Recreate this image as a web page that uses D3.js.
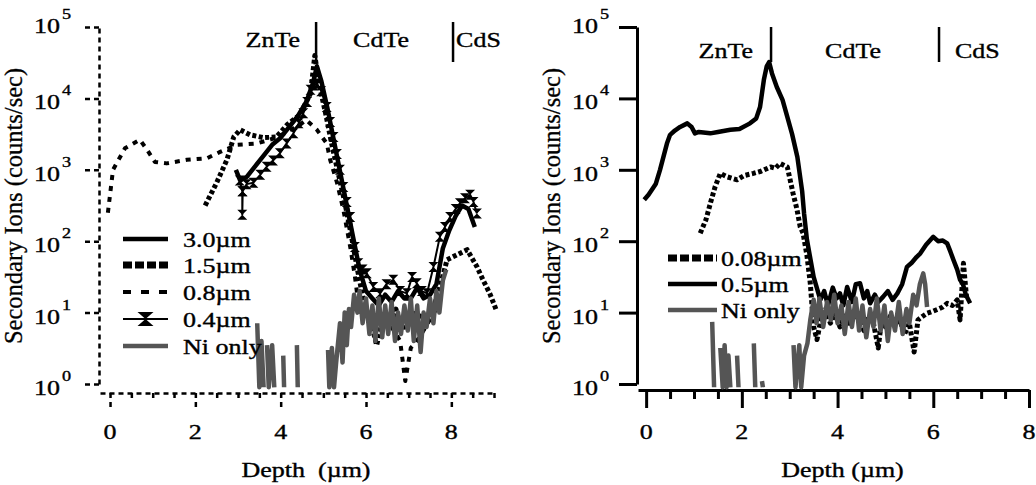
<!DOCTYPE html>
<html>
<head>
<meta charset="utf-8">
<script src="https://cdn.jsdelivr.net/npm/d3@7"></script>
<style>
  html, body { margin: 0; padding: 0; background: #fff; }
  svg { display: block; }
  text { white-space: pre; }
</style>
</head>
<body>
<svg id="chart" width="1036" height="485"></svg>
<script>
// Tiefenprofile, links: verschiedene Ni-Schichtdicken [Tiefe um, Counts/s]
const left30 = [[2.95, 1000], [3.05, 710], [3.2, 790], [3.4, 1120], [3.6, 1580], [3.8, 2240], [4.0, 2820], [4.2, 3980],
  [4.4, 5620], [4.6, 8910], [4.75, 15850], [4.85, 28180], [4.95, 17780], [5.1, 7080], [5.25, 2510], [5.4, 890],
  [5.55, 316], [5.7, 112], [5.85, 40], [6.0, 20], [6.15, 15.8], [6.3, 12.6], [6.45, 17.8], [6.6, 14.1], [6.75, 20],
  [6.9, 15.8], [7.05, 15.8], [7.2, 22.4], [7.35, 15.8], [7.5, 17.8], [7.65, 25], [7.8, 79], [7.95, 141], [8.1, 224],
  [8.25, 316], [8.4, 282], [8.55, 158]];
const left15 = [[2.23, 316], [2.5, 661], [2.74, 1380], [2.9, 2880], [3.05, 3630], [3.28, 3090], [3.6, 2820], [3.9, 2880],
  [4.15, 4270], [4.45, 5890], [4.7, 11750], [4.8, 39810], [4.9, 15850], [5.05, 6310], [5.2, 2240], [5.35, 890],
  [5.5, 355], [5.65, 126], [5.8, 40], [5.95, 14], [6.1, 7.9], [6.25, 3.5], [6.4, 8.9], [6.55, 6.3], [6.7, 11.2],
  [6.85, 5.6], [7.0, 8.9], [7.2, 10], [7.4, 7.1], [7.6, 12.6], [7.75, 25], [7.9, 55], [8.1, 63], [8.37, 76],
  [8.6, 44], [8.75, 28], [8.9, 18.6], [9.05, 11]];
const left08 = [[-0.05, 250], [0.07, 1000], [0.35, 2000], [0.7, 2630], [0.87, 1900], [1.05, 1290], [1.33, 1230],
  [1.8, 1380], [2.27, 1450], [2.58, 1780], [2.97, 2240], [3.44, 2340], [3.9, 2820], [4.45, 4270], [4.6, 5000],
  [4.85, 3630], [5.08, 2340], [5.16, 1380], [5.32, 660], [5.47, 275], [5.63, 83], [5.74, 32], [5.82, 13.5],
  [6.0, 10], [6.2, 8], [6.4, 10], [6.6, 6.3], [6.8, 4], [6.92, 1.1], [7.05, 3.2], [7.15, 3.7], [7.3, 5], [7.5, 8], [7.7, 12.6]];
const left04 = [[3.04, 710], [3.1, 500], [3.1, 234], [3.11, 500], [3.2, 630], [3.36, 660], [3.52, 850], [3.67, 1100],
  [3.82, 1350], [3.98, 1700], [4.14, 2340], [4.3, 3240], [4.42, 4470], [4.53, 6170], [4.62, 8910], [4.7, 13180],
  [4.78, 15140], [4.85, 16220], [4.95, 12590], [5.08, 7590], [5.16, 4680], [5.24, 2880], [5.32, 1660], [5.39, 1000],
  [5.47, 575], [5.55, 355], [5.63, 219], [5.74, 83], [5.82, 49], [5.92, 40], [6.02, 35.5], [6.17, 22.9], [6.33, 18.6],
  [6.48, 25], [6.64, 28.8], [6.8, 20], [6.96, 18.6], [7.08, 31.6], [7.19, 25.7], [7.31, 20], [7.43, 18.6], [7.58, 43.6],
  [7.73, 115], [7.85, 158], [7.97, 219], [8.1, 282], [8.2, 339], [8.32, 398], [8.44, 447], [8.52, 355], [8.6, 245]];
const leftNi = [[3.45, 7.1], [3.5, 0.9], [3.55, 4], [3.6, 0.9], [3.64, null], [3.68, 3.5], [3.72, 0.9], [3.8, 3.5], [3.85, 0.9],
  [3.95, null], [4.06, 2.5], [4.08, 0.9], [4.2, null], [4.38, 3.5], [4.4, 0.9], [4.8, null], [5.11, 3], [5.14, 0.9],
  [5.2, 3.2], [5.25, 0.9], [5.3, 2], [5.39, 7.1], [5.45, 2], [5.5, 10], [5.55, 3.5], [5.6, 11.2], [5.65, 6.3],
  [5.72, 17.8], [5.8, 10], [5.85, 20], [5.92, 7.1], [6.0, 15.8], [6.08, 5], [6.15, 12.6], [6.22, 4], [6.3, 15.8],
  [6.38, 4.5], [6.45, 12.6], [6.52, 5], [6.6, 14.1], [6.68, 4], [6.75, 10], [6.82, 5], [6.9, 12.6], [6.98, 5.6],
  [7.05, 15.8], [7.12, 4], [7.2, 12.6], [7.28, 2.8], [7.35, 10], [7.42, 6.3], [7.5, 15.8], [7.58, 7.1], [7.65, 20],
  [7.72, 10], [7.8, 28], [7.88, 40]];

// rechts
const right05 = [[-0.04, 380], [0.05, 447], [0.12, 525], [0.2, 631], [0.29, 1000], [0.44, 2400], [0.5, 3090], [0.6, 3550],
  [0.71, 3980], [0.86, 4470], [0.95, 3980], [1.02, 3240], [1.1, 3390], [1.34, 3240], [1.5, 3390], [1.76, 3630],
  [1.95, 3720], [2.17, 4470], [2.3, 5250], [2.38, 7590], [2.46, 18200], [2.52, 28180], [2.57, 32360], [2.63, 22390],
  [2.73, 14450], [2.85, 9550], [2.95, 5500], [3.05, 3160], [3.16, 1510], [3.26, 500], [3.3, 245], [3.36, 105],
  [3.5, 31.6], [3.64, 15.1], [3.72, 20], [3.8, 12.6], [3.9, 22.4], [3.98, 15.8], [4.05, 18.6], [4.12, 12.6],
  [4.2, 22.9], [4.3, 14.1], [4.38, 25], [4.47, 25.7], [4.55, 15.8], [4.62, 20], [4.68, 13.5], [4.78, 17.8],
  [4.85, 14.1], [4.95, 16.6], [5.05, 20], [5.15, 15.1], [5.25, 18.6], [5.35, 25], [5.45, 43.6], [5.55, 50],
  [5.65, 60], [5.73, 67.6], [5.85, 89], [6.0, 115], [6.1, 100], [6.2, 102], [6.29, 93], [6.36, 70.8], [6.42, 55],
  [6.5, 40], [6.56, 28.8], [6.62, 25], [6.68, 17.8], [6.77, 13.5]];
const right008 = [[1.13, 129], [1.25, 200], [1.35, 355], [1.44, 575], [1.55, 891], [1.7, 794], [1.9, 724], [2.05, 832],
  [2.24, 891], [2.4, 955], [2.6, 1096], [2.7, 1047], [2.8, 1230], [2.95, 1096], [3.07, 468], [3.15, 282], [3.22, 158],
  [3.28, 129], [3.36, 63], [3.43, 25.7], [3.5, 6.3], [3.57, 4.2], [3.65, 7.9], [3.75, 11.2], [3.85, 7.1], [3.95, 10],
  [4.05, 6.3], [4.15, 8.9], [4.25, 7.1], [4.35, 10], [4.45, 7.9], [4.55, 5.6], [4.65, 8.9], [4.75, 7.1], [4.85, 3.2],
  [4.92, 7.9], [5.0, 6.3], [5.1, 8.9], [5.2, 7.1], [5.3, 7.9], [5.4, 5], [5.5, 7.1], [5.6, 2.8], [5.68, 7.9],
  [5.78, 8.9], [5.87, 9.8], [6.0, 10.5], [6.1, 11.2], [6.2, 12], [6.29, 13.5], [6.4, 12.6], [6.5, 15.1], [6.56, 7.9],
  [6.63, 49], [6.7, 15.1]];
const rightNi = [[1.38, 7.4], [1.42, 0.9], [1.48, null], [1.55, 3.2], [1.6, 0.9], [1.64, 3.5], [1.68, 0.9], [1.72, 2.5],
  [1.76, 0.9], [1.82, null], [1.9, 2.5], [1.93, 0.9], [2.1, null], [2.25, 3.7], [2.28, 0.9], [2.35, null], [2.42, 1.1],
  [2.44, 0.9], [2.7, null], [3.08, 3.5], [3.12, 0.9], [3.2, 3.5], [3.24, 0.9], [3.3, 2.5], [3.37, 3.7], [3.43, 7.9],
  [3.5, 15.1], [3.56, 7.1], [3.62, 15.8], [3.7, 6.3], [3.78, 14.1], [3.86, 7.9], [3.93, 17.8], [4.0, 7.1],
  [4.08, 12.6], [4.15, 5], [4.23, 14.1], [4.3, 6.3], [4.38, 15.8], [4.45, 5.6], [4.52, 12.6], [4.6, 4.5], [4.68, 11.2],
  [4.75, 6.3], [4.82, 15.8], [4.9, 5.6], [4.98, 12.6], [5.05, 4], [5.12, 10], [5.2, 5.6], [5.28, 14.1], [5.36, 5],
  [5.44, 11.2], [5.5, 7.1], [5.58, 17.8], [5.65, 12.6], [5.72, 25], [5.79, 35.5], [5.83, 25], [5.87, 12]];

// Schichtgrenzen (Tiefe um) und Beschriftungen
const layerNames = ['ZnTe', 'CdTe', 'CdS'];
const boundsLeft = [4.83, 8.04];
const boundsRight = [2.61, 6.12];
const yPowers = [0, 1, 2, 3, 4, 5];
const xMajor = [0, 2, 4, 6, 8];

const FONT = "'Liberation Serif', 'Times New Roman', Times, serif";
const FONT_SX = 1.3;   // Text im Original horizontal gestreckt
const svg = d3.select('#chart');

const y = d3.scaleLog().domain([1, 1e5]).range([384, 27]);
const xL = d3.scaleLinear().domain([-0.235, 9]).range([100, 494]);
const xR = d3.scaleLinear().domain([-0.17, 8]).range([638, 1029]);

function label(g, x, yy, str, size, anchor) {
    return g.append('text')
        .attr('transform', `translate(${x},${yy}) scale(${FONT_SX},1)`)
        .attr('text-anchor', anchor || 'start')
        .attr('font-family', FONT)
        .attr('font-size', size)
        .attr('fill', '#000')
        .attr('stroke', '#000')
        .attr('stroke-width', 0.35)
        .text(str);
}

function styleStroke(sel, dash, width) {
    sel.attr('stroke', '#000').attr('stroke-width', width)
        .attr('stroke-dasharray', dash || null).attr('fill', 'none');
}

/**
 * Achsen eines Panels
 */
function drawAxes(x, axisX, axisY, dash, width, depthLabel, majLen, minLen) {
    const g = svg.append('g');
    const last = x.domain()[1];

    // y-Achse
    const ya = g.append('g').attr('transform', `translate(${axisX},0)`)
        .call(d3.axisLeft(y).tickValues(yPowers.map(p => Math.pow(10, p)))
            .tickSize(18).tickSizeOuter(0).tickFormat(''));
    styleStroke(ya.selectAll('path, line'), dash, width);

    // x-Achse, halbe Einheiten
    const ticks = d3.range(0, Math.floor(last * 2) / 2 + 0.001, 0.5);
    const xa = g.append('g').attr('transform', `translate(0,${axisY})`)
        .call(d3.axisBottom(x).tickValues(ticks).tickSize(majLen).tickSizeOuter(0).tickFormat(''));
    styleStroke(xa.selectAll('path, line'), dash, width);
    xa.selectAll('.tick line').attr('y2', d => (Math.abs(d % 2) < 1e-6 ? majLen : minLen));

    // Beschriftungen y
    yPowers.forEach(p => {
        const ty = y(Math.pow(10, p));
        const base = ty + (p === 5 ? 6 : 11);
        label(g, axisX - 39, base, '10', 20, 'end');
        label(g, axisX - 37, base - 14, String(p), 14, 'start');
    });

    // Beschriftungen x
    xMajor.forEach(v => label(g, x(v), 439, String(v), 20, 'middle'));

    const mid = (x.range()[0] + x.range()[1]) / 2 + 9;
    label(g, mid, 477, depthLabel, 20, 'middle');

    g.append('text')
        .attr('transform', `translate(${axisX - 77},206) rotate(-90)`)
        .attr('text-anchor', 'middle')
        .attr('font-family', FONT)
        .attr('font-size', 24.5)
        .attr('fill', '#000')
        .attr('stroke', '#000')
        .attr('stroke-width', 0.3)
        .text('Secondary Ions (counts/sec)');
}

const lineGen = x => d3.line()
    .defined(d => d[1] != null)
    .x(d => x(d[0]))
    .y(d => y(d[1]));

function hourglass(w, h) {
    return `M${-w},${-h}L${w},${-h}L${-w},${h}L${w},${h}Z`;
}

function drawSeries(x, data, st) {
    const p = svg.append('path').datum(data).attr('d', lineGen(x)(data))
        .attr('fill', 'none').attr('stroke', st.color).attr('stroke-width', st.width)
        .attr('stroke-linejoin', 'round');
    if (st.dash) p.attr('stroke-dasharray', st.dash);
    if (st.marker) {
        svg.append('g').selectAll('path').data(data.filter(d => d[1] != null)).enter()
            .append('path')
            .attr('transform', d => `translate(${x(d[0])},${y(d[1])})`)
            .attr('d', hourglass(5, 5))
            .attr('fill', '#000');
    }
}

function drawLegend(items, x0, x1, tx, rows) {
    const g = svg.append('g');
    items.forEach((it, i) => {
        const ry = rows[i];
        const l = g.append('line').attr('x1', x0).attr('x2', x1).attr('y1', ry).attr('y2', ry)
            .attr('stroke', it.st.color).attr('stroke-width', it.st.legendWidth || it.st.width);
        if (it.st.dash) l.attr('stroke-dasharray', it.st.legendDash || it.st.dash);
        if (it.st.marker) {
            g.append('path').attr('transform', `translate(${(x0 + x1) / 2},${ry})`)
                .attr('d', hourglass(8, 7)).attr('fill', '#000');
        }
        label(g, tx, ry + 8, it.name, 20, 'start');
    });
}

function drawLayers(x, bounds, lineTop, lineBottom, base, names) {
    const g = svg.append('g');
    bounds.forEach(b => {
        g.append('line').attr('x1', x(b)).attr('x2', x(b))
            .attr('y1', lineTop).attr('y2', lineBottom)
            .attr('stroke', '#000').attr('stroke-width', 2.5);
    });
    names.forEach(n => label(g, n.x, base, n.text, 20, n.anchor));
}

// Stile
const stSolid = { color: '#000', width: 4.5 };
const stSquare = { color: '#000', width: 5, dash: '4,2.5', legendWidth: 7, legendDash: '9,3' };
const stDash = { color: '#000', width: 4, dash: '5,6', legendDash: '8,10' };
const stMarker = { color: '#000', width: 2, marker: true };
const stNi = { color: '#555555', width: 4.5 };

// ---- linkes Panel ----
drawAxes(xL, 99, 393, '5,4', 2.5, 'Depth  (\u00b5m)', 15, 7);
drawSeries(xL, left08, stDash);
drawSeries(xL, left15, stSquare);
drawSeries(xL, left30, stSolid);
drawSeries(xL, left04, stMarker);
drawSeries(xL, leftNi, stNi);
drawLegend([
    { name: '3.0\u00b5m', st: stSolid },
    { name: '1.5\u00b5m', st: stSquare },
    { name: '0.8\u00b5m', st: stDash },
    { name: '0.4\u00b5m', st: stMarker },
    { name: 'Ni only', st: stNi }
], 123, 168, 183, [239, 265, 292, 319, 346]);
drawLayers(xL, boundsLeft, 22, 62, 47, [
    { text: layerNames[0], x: xL(boundsLeft[0]) - 16, anchor: 'end' },
    { text: layerNames[1], x: xL(boundsLeft[0]) + 37, anchor: 'start' },
    { text: layerNames[2], x: xL(boundsLeft[1]) + 3, anchor: 'start' }
]);

// ---- rechtes Panel ----
drawAxes(xR, 637, 390, null, 3, 'Depth (\u00b5m)', 18, 9);
drawSeries(xR, right008, stSquare);
drawSeries(xR, right05, stSolid);
drawSeries(xR, rightNi, stNi);
drawLegend([
    { name: '0.08\u00b5m', st: stSquare },
    { name: '0.5\u00b5m', st: stSolid },
    { name: 'Ni only', st: stNi }
], 668, 717, 721, [258, 284, 310]);
drawLayers(xR, boundsRight, 27, 62, 58, [
    { text: layerNames[0], x: xR(boundsRight[0]) - 18, anchor: 'end' },
    { text: layerNames[1], x: xR(boundsRight[0]) + 54, anchor: 'start' },
    { text: layerNames[2], x: xR(boundsRight[1]) + 16, anchor: 'start' }
]);
</script>
</body>
</html>
